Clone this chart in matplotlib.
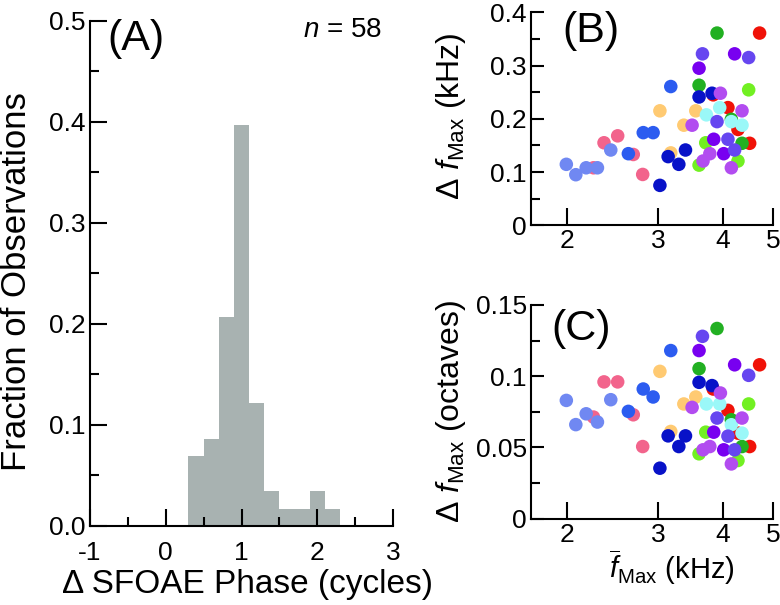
import matplotlib
matplotlib.use('Agg')
import matplotlib.pyplot as plt
import numpy as np
from matplotlib.ticker import MultipleLocator, FixedLocator, FixedFormatter, NullLocator

plt.rcParams['font.family'] = ['Liberation Sans', 'DejaVu Sans']
plt.rcParams['mathtext.fontset'] = 'custom'
plt.rcParams['mathtext.rm'] = 'Liberation Sans'
plt.rcParams['mathtext.it'] = 'Liberation Sans:italic'
plt.rcParams['mathtext.bf'] = 'Liberation Sans:bold'
plt.rcParams['axes.unicode_minus'] = False

# ---------------- Panel A data (histogram) ----------------
bin_edges = [0.3, 0.5, 0.7, 0.9, 1.1, 1.3, 1.5, 1.7, 1.9, 2.1, 2.3]
fractions = [0.069, 0.086, 0.207, 0.397, 0.121, 0.034, 0.017, 0.017, 0.034, 0.017]
n_obs = 58

# ---------------- Panel B/C data (scatter) ----------------
group_order = ['red', 'green', 'lime', 'orange', 'pink', 'navy', 'royal',
               'lightslate', 'cyan', 'purple', 'lightpurple', 'slate']
group_colors = {
    'lightslate': '#7088f2', 'pink': '#f2648c', 'royal': '#2c5cf0',
    'navy': '#0812c8', 'orange': '#ffca72', 'lightpurple': '#b24cf0',
    'purple': '#7800f0', 'slate': '#6646f0', 'green': '#22b022',
    'lime': '#72f022', 'cyan': '#9af8f8', 'red': '#f01208',
}
point_group = (['lightslate'] * 5 + ['pink'] * 5 + ['royal'] * 4 + ['navy'] * 6 +
               ['orange'] * 4 + ['lightpurple'] * 6 + ['purple'] * 4 + ['slate'] * 5 +
               ['green'] * 4 + ['lime'] * 4 + ['cyan'] * 4 + ['red'] * 5)
f_mean = [1.99, 2.076, 2.174, 2.286, 2.426,
          2.246, 2.354, 2.502, 2.682, 2.797,
          2.624, 2.804, 2.93, 3.17,
          3.02, 3.133, 3.286, 3.385, 3.596, 3.81,
          3.02, 3.17, 3.36, 3.544,
          3.486, 3.66, 3.773, 3.955, 4.153, 4.355,
          3.596, 3.839, 4.014, 4.214,
          3.651, 3.896, 4.09, 4.214, 4.486,
          3.596, 3.896, 4.153, 4.355,
          3.596, 3.705, 4.277, 4.486,
          3.716, 3.943, 4.153, 4.355,
          3.83, 4.09, 4.277, 4.506, 4.71]
df_khz = [0.1145, 0.095, 0.108, 0.108, 0.1414,
          0.108, 0.155, 0.168, 0.133, 0.0955,
          0.1345, 0.174, 0.174, 0.2606,
          0.075, 0.129, 0.1145, 0.1414, 0.241, 0.248,
          0.215, 0.136, 0.188, 0.215,
          0.188, 0.1207, 0.1345, 0.248, 0.108, 0.215,
          0.295, 0.1616, 0.1345, 0.322,
          0.322, 0.1947, 0.1616, 0.1414, 0.315,
          0.263, 0.361, 0.199, 0.154,
          0.113, 0.155, 0.1207, 0.2544,
          0.2074, 0.221, 0.1947, 0.188,
          0.245, 0.221, 0.180, 0.154, 0.361]
df_oct = [0.083, 0.066, 0.0736, 0.0678, 0.0835,
          0.0713, 0.096, 0.096, 0.0729, 0.0506,
          0.0753, 0.091, 0.0854, 0.118,
          0.0354, 0.0581, 0.0506, 0.0581, 0.0957, 0.0934,
          0.1034, 0.0612, 0.0805, 0.0854,
          0.0781, 0.0483, 0.0506, 0.0882, 0.0384, 0.0706,
          0.118, 0.0607, 0.0483, 0.108,
          0.128, 0.0706, 0.0579, 0.0483, 0.1006,
          0.1053, 0.1335, 0.0694, 0.0506,
          0.0455, 0.0607, 0.0408, 0.0805,
          0.0805, 0.0805, 0.0659, 0.060,
          0.091, 0.076, 0.060, 0.0506, 0.108]

W, H = 780, 605
fig = plt.figure(figsize=(W / 100, H / 100), dpi=100)

def px_axes(left, top, right, bottom):
    return fig.add_axes([left / W, 1 - bottom / H, (right - left) / W, (bottom - top) / H])

axA = px_axes(90, 20.7, 393, 525.7)
axB = px_axes(531, 12.3, 773, 225.3)
axC = px_axes(531, 305, 773, 518.6)

tick_fs = 19

def style(ax):
    for s in ['top', 'right']:
        ax.spines[s].set_visible(False)
    for s in ['left', 'bottom']:
        ax.spines[s].set_linewidth(1.5)
    ax.tick_params(which='both', direction='in', width=1.5, labelsize=tick_fs)
    ax.tick_params(axis='y', which='both', pad=3)

# Panel A
axA.stairs(fractions, bin_edges, fill=True, color='#a8b2b1', linewidth=0)
axA.set_xlim(-1, 3)
axA.set_ylim(0, 0.5)
style(axA)
axA.xaxis.set_major_locator(MultipleLocator(1))
axA.xaxis.set_minor_locator(MultipleLocator(0.5))
axA.yaxis.set_minor_locator(MultipleLocator(0.05))
axA.set_yticks([0, 0.1, 0.2, 0.3, 0.4, 0.5])
axA.set_yticklabels(['0.0', '0.1', '0.2', '0.3', '0.4', '0.5'])
axA.tick_params(which='major', length=12)
axA.tick_params(which='minor', length=6.5)
axA.tick_params(axis='x', which='both', pad=11)

# Panels B and C
for ax, yvals in [(axB, df_khz), (axC, df_oct)]:
    for z, g in enumerate(group_order):
        idx = [i for i, pg in enumerate(point_group) if pg == g]
        ax.scatter([f_mean[i] for i in idx], [yvals[i] for i in idx], s=95,
                   color=group_colors[g], edgecolors='none', zorder=3 + z, clip_on=False)
    ax.set_xscale('log')
    ax.set_xlim(1.7, 5)
    style(ax)
    ax.xaxis.set_major_locator(FixedLocator([2, 3, 4, 5]))
    ax.xaxis.set_major_formatter(FixedFormatter(['2', '3', '4', '5']))
    ax.xaxis.set_minor_locator(NullLocator())
    ax.tick_params(axis='x', which='major', length=12, pad=3)
    ax.tick_params(axis='y', which='major', length=9)
    ax.tick_params(axis='y', which='minor', length=6.5)

axB.set_ylim(0, 0.4)
axB.yaxis.set_minor_locator(MultipleLocator(0.05))
axB.set_yticks([0, 0.1, 0.2, 0.3, 0.4])
axB.set_yticklabels(['0', '0.1', '0.2', '0.3', '0.4'])

axC.set_ylim(0, 0.15)
axC.yaxis.set_minor_locator(MultipleLocator(0.025))
axC.set_yticks([0, 0.05, 0.1, 0.15])
axC.set_yticklabels(['0', '0.05', '0.1', '0.15'])

# Texts
fig.text(107 / W, 1 - 50 / H, '(A)', fontsize=31, va='baseline', ha='left')
fig.text(382 / W, 1 - 37 / H, r'$n$ = 58', fontsize=20, va='baseline', ha='right')
fig.text(562 / W, 1 - 42 / H, '(B)', fontsize=31, va='baseline', ha='left')
fig.text(551 / W, 1 - 340 / H, '(C)', fontsize=31, va='baseline', ha='left')

fig.text(26 / W, 1 - 282 / H, 'Fraction of Observations', fontsize=25,
         rotation=90, rotation_mode='anchor', ha='center', va='baseline')
fig.text(247 / W, 1 - 585 / H, 'Δ SFOAE Phase (cycles)', fontsize=24,
         ha='center', va='center')
fig.text(451 / W, 1 - 116 / H, r'Δ $f_{\mathrm{Max}}$ (kHz)', fontsize=23,
         rotation=90, ha='center', va='center')
fig.text(451 / W, 1 - 412 / H, r'Δ $f_{\mathrm{Max}}$ (octaves)', fontsize=23,
         rotation=90, ha='center', va='center')
fig.text(672 / W, 1 - 579 / H, r'$\overline{f}_{\mathrm{Max}}$ (kHz)', fontsize=21,
         ha='center', va='baseline')

fig.savefig('out.png', dpi=100)
